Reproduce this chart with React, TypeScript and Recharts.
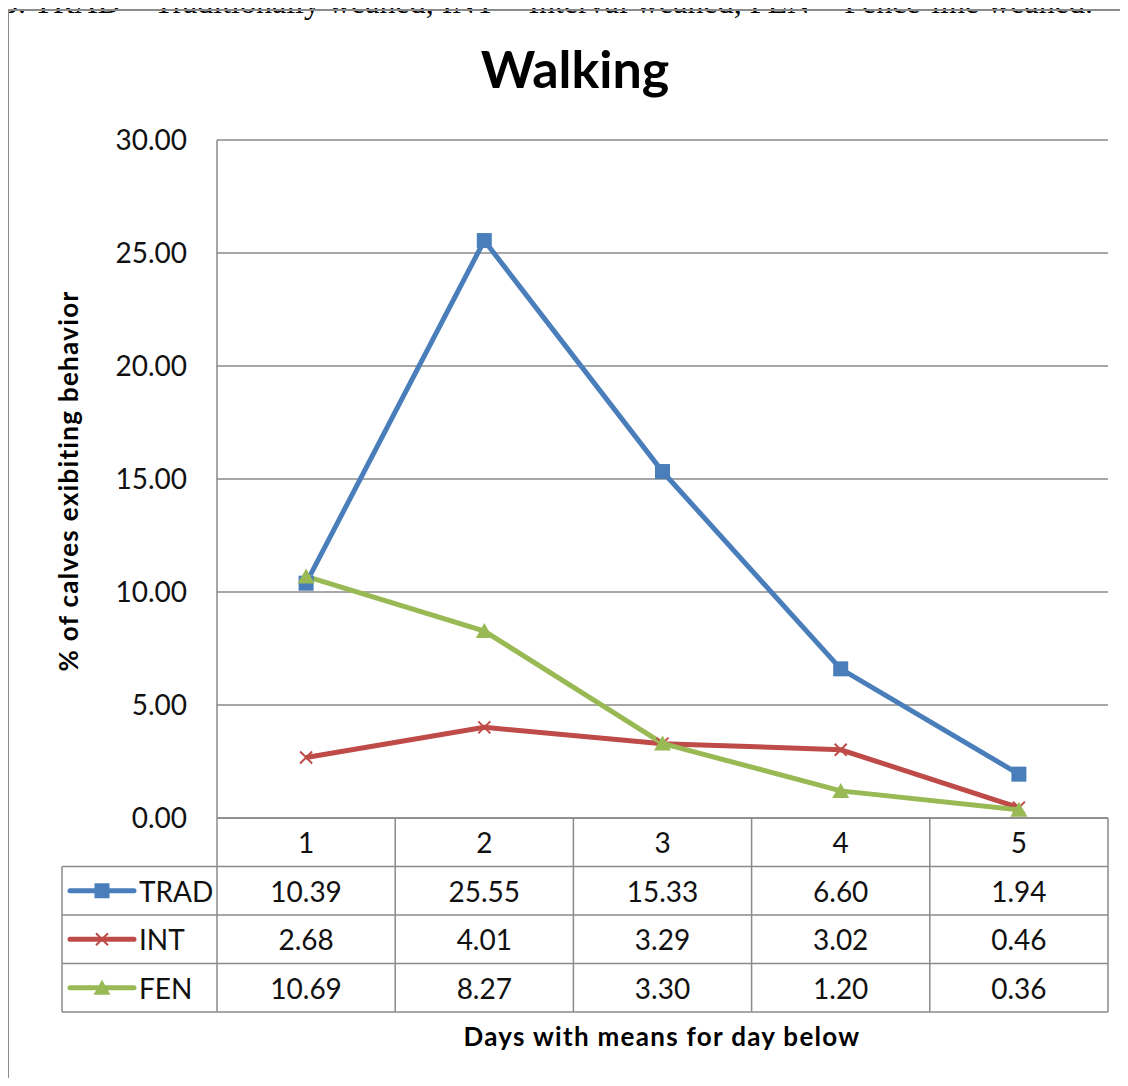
import React from 'react';
import { LineChart, Line, XAxis, YAxis, CartesianGrid } from 'recharts';

const days = ['1', '2', '3', '4', '5'];
const tradValues = [10.39, 25.55, 15.33, 6.6, 1.94];
const intValues = [2.68, 4.01, 3.29, 3.02, 0.46];
const fenValues = [10.69, 8.27, 3.3, 1.2, 0.36];
const yTicks = [0, 5, 10, 15, 20, 25, 30];

const FONT = 'Lato, "Open Sans", sans-serif';
const GRID = '#8a8a8a';

const CHART_W = 1128;
const CHART_H = 1086;
const MARGIN = { top: 140, right: 20, bottom: 0, left: 117 };
const Y_AXIS_W = 100;
const X_AXIS_H = 268;
const PLOT_W = CHART_W - MARGIN.left - Y_AXIS_W - MARGIN.right;
const HALF_CELL = PLOT_W / days.length / 2;
const ROW_H = 48.5;
const LEGEND_LEFT = 62;

const series = [
  { key: 'TRAD', values: tradValues, color: '#4A7EBB', marker: 'square' },
  { key: 'INT', values: intValues, color: '#BE4B48', marker: 'cross' },
  { key: 'FEN', values: fenValues, color: '#98B954', marker: 'triangle' },
];

const data = days.map((day, i) => {
  const row: Record<string, string | number> = { day };
  series.forEach((s) => (row[s.key] = s.values[i]));
  return row;
});

function Marker({ cx, cy, kind, color }: { cx: number; cy: number; kind: string; color: string }) {
  if (kind === 'square') {
    return <rect x={cx - 7.5} y={cy - 7.5} width={15} height={15} fill={color} />;
  }
  if (kind === 'cross') {
    const d = 6;
    return (
      <g stroke={color} strokeWidth={2}>
        <line x1={cx - d} y1={cy - d} x2={cx + d} y2={cy + d} />
        <line x1={cx - d} y1={cy + d} x2={cx + d} y2={cy - d} />
      </g>
    );
  }
  return <polygon points={`${cx},${cy - 8} ${cx + 8.5},${cy + 7} ${cx - 8.5},${cy + 7}`} fill={color} />;
}

// each x tick draws one column of the data table under the plot
function TableColumn(props: any) {
  const { x, y, payload, index } = props;
  const left = x - HALF_CELL;
  const right = x + HALF_CELL;
  const bottom = y + ROW_H * (series.length + 1);
  return (
    <g fontFamily={FONT} fontSize={28} fill="#111">
      <text x={x} y={y + ROW_H / 2} textAnchor="middle" dominantBaseline="central">
        {payload.value}
      </text>
      {series.map((s, r) => {
        const top = y + ROW_H * (r + 1);
        return (
          <g key={s.key}>
            <line x1={left} x2={right} y1={top} y2={top} stroke={GRID} strokeWidth={1.5} />
            <text x={x} y={top + ROW_H / 2} textAnchor="middle" dominantBaseline="central">
              {s.values[index].toFixed(2)}
            </text>
          </g>
        );
      })}
      <line x1={left} x2={right} y1={bottom} y2={bottom} stroke={GRID} strokeWidth={1.5} />
      <line x1={right} x2={right} y1={y} y2={bottom} stroke={GRID} strokeWidth={1.5} />
      {index === 0 && (
        <g>
          <line x1={left} x2={left} y1={y} y2={bottom} stroke={GRID} strokeWidth={1.5} />
          <line x1={LEGEND_LEFT} x2={LEGEND_LEFT} y1={y + ROW_H} y2={bottom} stroke={GRID} strokeWidth={1.5} />
          {series.map((s, r) => {
            const top = y + ROW_H * (r + 1);
            const mid = top + ROW_H / 2;
            return (
              <g key={s.key}>
                <line x1={LEGEND_LEFT} x2={left} y1={top} y2={top} stroke={GRID} strokeWidth={1.5} />
                <line x1={70} x2={134} y1={mid} y2={mid} stroke={s.color} strokeWidth={5} strokeLinecap="round" />
                <Marker cx={102} cy={mid} kind={s.marker} color={s.color} />
                <text x={139} y={mid} dominantBaseline="central">
                  {s.key}
                </text>
              </g>
            );
          })}
          <line x1={LEGEND_LEFT} x2={left} y1={bottom} y2={bottom} stroke={GRID} strokeWidth={1.5} />
        </g>
      )}
    </g>
  );
}

const boldLabel: React.CSSProperties = {
  position: 'absolute',
  whiteSpace: 'nowrap',
  fontFamily: FONT,
  fontWeight: 700,
  fontSize: 26,
  letterSpacing: 1.3,
  lineHeight: 1.2,
  color: '#000',
};

export default function App() {
  return (
    <div
      style={{
        position: 'relative',
        width: CHART_W,
        height: CHART_H,
        margin: -8,
        overflow: 'hidden',
        background: '#fff',
      }}
    >
      <div
        style={{
          position: 'absolute',
          left: 2,
          top: -14,
          whiteSpace: 'nowrap',
          fontFamily: '"Liberation Serif", "Times New Roman", serif',
          fontSize: 32,
          lineHeight: '32px',
          color: '#000',
        }}
      >
        3. TRAD = Traditionally weaned, INT = Interval weaned, FEN = Fence-line weaned.
      </div>
      <div
        style={{
          position: 'absolute',
          left: 7,
          top: 9,
          width: 1300,
          height: 1300,
          border: '2px solid #8c8c8c',
        }}
      />
      <div
        style={{
          ...boldLabel,
          left: 0,
          width: 1150,
          top: 37,
          textAlign: 'center',
          fontSize: 52,
          letterSpacing: 0,
        }}
      >
        Walking
      </div>
      <div
        style={{
          ...boldLabel,
          left: 69,
          top: 481,
          transform: 'translate(-50%, -50%) rotate(-90deg)',
        }}
      >
        % of calves exibiting behavior
      </div>
      <div style={{ ...boldLabel, left: 0, width: 1324, top: 1021, textAlign: 'center' }}>
        Days with means for day below
      </div>
      <div style={{ position: 'absolute', left: 0, top: 0 }}>
        <LineChart width={CHART_W} height={CHART_H} data={data} margin={MARGIN}>
          <CartesianGrid vertical={false} stroke={GRID} strokeWidth={1.5} />
          <XAxis
            dataKey="day"
            height={X_AXIS_H}
            padding={{ left: HALF_CELL, right: HALF_CELL }}
            interval={0}
            tickLine={false}
            tickSize={0}
            tickMargin={0}
            axisLine={{ stroke: GRID, strokeWidth: 1.5 }}
            tick={<TableColumn />}
          />
          <YAxis
            width={Y_AXIS_W}
            domain={[0, 30]}
            ticks={yTicks}
            interval={0}
            tickLine={false}
            tickSize={0}
            tickMargin={30}
            axisLine={{ stroke: GRID, strokeWidth: 1.5 }}
            tickFormatter={(v: number) => v.toFixed(2)}
            tick={{ fontFamily: FONT, fontSize: 28, fill: '#111' }}
          />
          {series.map((s) => (
            <Line
              key={s.key}
              dataKey={s.key}
              type="linear"
              stroke={s.color}
              strokeWidth={5}
              isAnimationActive={false}
              dot={(p: any) => <Marker key={`${s.key}-${p.index}`} cx={p.cx} cy={p.cy} kind={s.marker} color={s.color} />}
              activeDot={false}
            />
          ))}
        </LineChart>
      </div>
    </div>
  );
}
